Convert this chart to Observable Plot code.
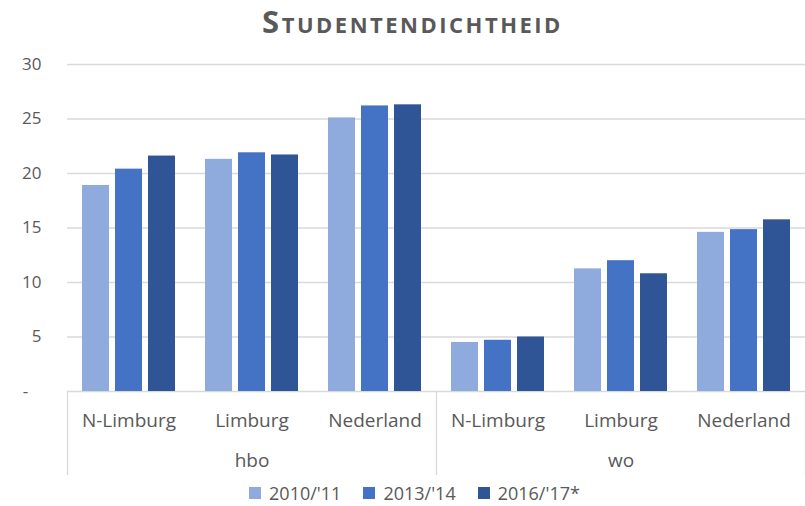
<!DOCTYPE html>
<html><head><meta charset="utf-8">
<script src="https://cdn.jsdelivr.net/npm/d3@7"></script>
<script src="https://cdn.jsdelivr.net/npm/@observablehq/plot@0.6"></script>
<style>
body{margin:0;background:#fff;font-family:"Open Sans",sans-serif;color:#595959;}
#title{height:40px;text-align:center;font-size:31px;font-weight:700;font-variant:small-caps;line-height:42px;color:#595959;letter-spacing:2.5px;padding-left:20px;}
#legend{display:flex;justify-content:center;align-items:center;font-size:18px;height:26px;color:#595959;padding-left:24px;}
#legend .item{display:flex;align-items:center;margin:0 11px;}
#legend .sw{width:12px;height:12px;margin-right:8px;}
</style></head><body>
<div id="title">Studentendichtheid</div>
<div id="chart"></div>
<div id="legend"></div>
<script>
const groups = ["hbo", "wo"];
const regions = ["N-Limburg", "Limburg", "Nederland"];
const years = ["2010/'11", "2013/'14", "2016/'17*"];
const colors = ["#8FAADC", "#4472C4", "#2F5597"];
const yTicks = [0, 5, 10, 15, 20, 25, 30];
// values per year, order: hbo N-Limburg, Limburg, Nederland, wo N-Limburg, Limburg, Nederland
const v2010 = [18.9, 21.3, 25.1, 4.5, 11.25, 14.6];
const v2013 = [20.4, 21.9, 26.2, 4.7, 12.0, 14.85];
const v2016 = [21.6, 21.7, 26.3, 5.0, 10.8, 15.75];
const series = [v2010, v2013, v2016];

const keys = [];
const data = [];
groups.forEach((g, gi) => regions.forEach((r, ri) => {
  const key = g + "|" + r;
  keys.push(key);
  years.forEach((y, yi) => data.push({key, group: g, region: r, year: y, value: series[yi][gi * 3 + ri]}));
}));
const groupLabels = groups.map(g => ({key: g + "|" + regions[1], label: g}));

const W = 805, H = 440, ML = 67, MR = 0, MT = 24, MB = 89;
const chart = Plot.plot({
  width: W, height: H,
  marginLeft: ML, marginRight: MR, marginTop: MT, marginBottom: MB,
  style: {fontFamily: "'Open Sans', sans-serif", color: "#595959", background: "#fff"},
  fx: {domain: keys, padding: 0, label: null, axis: null},
  x: {domain: years, paddingInner: 0.18, paddingOuter: 0.4, axis: null},
  y: {domain: [0, 30], label: null, axis: null},
  color: {domain: years, range: colors},
  marks: [
    Plot.gridY(yTicks, {stroke: "#d9d9d9", strokeOpacity: 1, strokeWidth: 1.3}),
    Plot.barY(data, {fx: "key", x: "year", y: "value", fill: "year"}),
    Plot.axisY({ticks: yTicks, anchor: "left", tickSize: 0, tickPadding: 26, fontSize: 17, fill: "#595959",
      tickFormat: d => d === 0 ? "-\u00a0\u00a0\u00a0" : String(d), label: null}),
    Plot.axisFx({anchor: "bottom", tickSize: 0, tickPadding: 22, fontSize: 19, fill: "#595959",
      tickFormat: k => k.split("|")[1], label: null}),
    Plot.text(groupLabels, {fx: "key", text: "label", frameAnchor: "bottom", dy: 75, fontSize: 19, fill: "#595959"})
  ]
});
document.getElementById("chart").appendChild(chart);

// group separator lines below the axis (category-axis level boundaries)
const fxs = chart.scale("fx");
const step = (fxs.range[1] - fxs.range[0]) / keys.length;
const svg = d3.select(chart);
const baseY = H - MB;
[0, 3, 6].forEach(i => {
  const x = Math.round(fxs.range[0] + i * step) + 0.5;
  svg.append("line").attr("x1", x).attr("x2", x).attr("y1", baseY).attr("y2", baseY + 84)
    .attr("stroke", "#d9d9d9").attr("stroke-width", 1.3);
});

const legend = d3.select("#legend");
years.forEach((y, i) => {
  const it = legend.append("div").attr("class", "item");
  it.append("div").attr("class", "sw").style("background", colors[i]);
  it.append("span").text(y);
});
</script>
</body></html>
